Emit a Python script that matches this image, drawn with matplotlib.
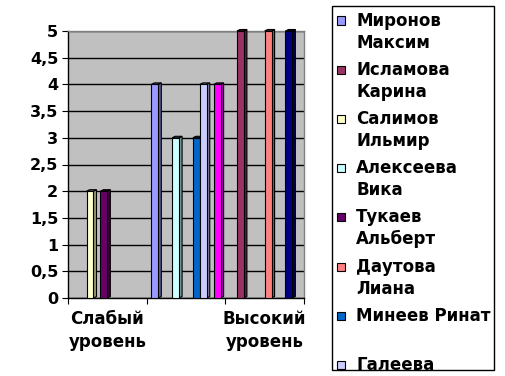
import matplotlib
matplotlib.use("Agg")
import matplotlib.pyplot as plt
import numpy as np
from matplotlib.colors import to_rgb
from matplotlib.patches import Polygon, Rectangle

# categories (the middle label is skipped on the axis, as in the original)
categories = ["Слабый уровень", "", "Высокий уровень"]

# legend entries as they appear (box cuts off after the 8th)
legend_labels = [
    "Миронов\nМаксим",
    "Исламова\nКарина",
    "Салимов\nИльмир",
    "Алексеева\nВика",
    "Тукаев\nАльберт",
    "Даутова\nЛиана",
    "Минеев Ринат\n",
    "Галеева",
]

# one value per series (10 pupils) in each category
weak = [0, 0, 2, 0, 2, 0, 0, 0, 0, 0]
medium = [4, 0, 0, 3, 0, 0, 3, 4, 0, 4]
high = [0, 5, 0, 0, 0, 5, 0, 0, 5, 0]

colors = ["#9999FF", "#993366", "#FFFFCC", "#CCFFFF", "#660066",
          "#FF8080", "#0066CC", "#CCCCFF", "#000080", "#FF00FF"]

y_ticks = [0, 0.5, 1, 1.5, 2, 2.5, 3, 3.5, 4, 4.5, 5]

W, H = 505, 376
plt.rcParams["font.family"] = "DejaVu Sans"
plt.rcParams["font.weight"] = "bold"
FS = 12


def fx(x):
    return x / W


def fy(y):
    return 1 - y / H


fig = plt.figure(figsize=(W / 100, H / 100), dpi=100)
fig.patch.set_facecolor("white")
ax = fig.add_axes([fx(68), fy(298), (304 - 68) / W, (298 - 31) / H])
ax.set_facecolor("#C0C0C0")

n = len(colors)
slot = 0.088
depth_x = 3 / 78.5
depth_y = 1.5 / 53.4
x = np.arange(len(categories))
for i in range(n):
    vals = np.array([weak[i], medium[i], high[i]], dtype=float)
    left = x - n * slot / 2 + i * slot
    mask = vals > 0
    bars = ax.bar(left[mask], vals[mask], width=slot, align="edge",
                  color=colors[i], edgecolor="black", linewidth=0.8, zorder=3)
    dark = tuple(np.array(to_rgb(colors[i])) * 0.6)
    for b in bars:
        x0, w, h = b.get_x(), b.get_width(), b.get_height()
        side = [(x0 + w, 0), (x0 + w + depth_x, depth_y),
                (x0 + w + depth_x, h + depth_y), (x0 + w, h)]
        top = [(x0, h), (x0 + depth_x, h + depth_y),
               (x0 + w + depth_x, h + depth_y), (x0 + w, h)]
        for pts in (side, top):
            ax.add_patch(Polygon(pts, closed=True, facecolor=dark,
                                 edgecolor="black", linewidth=0.8, zorder=2.9,
                                 clip_on=False))

ax.set_xlim(-0.5, len(categories) - 0.5)
ax.set_ylim(0, 5)
ax.set_yticks(y_ticks)
ax.set_yticklabels([f"{v:g}".replace(".", ",") for v in y_ticks])
ax.yaxis.grid(True, color="black", linewidth=1)
ax.set_axisbelow(True)

ax.set_xticks(np.arange(len(categories) + 1) - 0.5)
ax.set_xticklabels([])
ax.set_xticks(x, minor=True)
ax.set_xticklabels([c.replace(" ", "\n") for c in categories], minor=True,
                   fontsize=FS, linespacing=1.35)
ax.tick_params(axis="x", which="major", length=4, direction="out", color="black")
ax.tick_params(axis="x", which="minor", length=0, pad=9)
ax.tick_params(axis="y", length=4, direction="out", labelsize=FS - 0.5, pad=3)

for side_name in ("left", "bottom"):
    ax.spines[side_name].set_color("black")
    ax.spines[side_name].set_linewidth(1)
for side_name in ("top", "right"):
    ax.spines[side_name].set_color("#808080")
    ax.spines[side_name].set_linewidth(1)

# legend box drawn by hand so the bottom entry is cut like the original
box = Rectangle((fx(332), fy(370)), (494 - 332) / W, (370 - 6) / H,
                transform=fig.transFigure, facecolor="white",
                edgecolor="black", linewidth=1)
fig.add_artist(box)
for k, label in enumerate(legend_labels):
    yc = 20.5 + k * 49.2
    sq = Rectangle((fx(337), fy(yc + 4)), 8 / W, 8 / H,
                   transform=fig.transFigure, facecolor=colors[k],
                   edgecolor="black", linewidth=0.8)
    fig.add_artist(sq)
    sq.set_clip_path(box)
    for j, line in enumerate(label.split("\n")):
        t = fig.text(fx(356), fy(yc + j * 22), line, ha="left", va="center",
                     fontsize=FS)
        t.set_clip_path(box)

fig.savefig("out.png", dpi=100)
